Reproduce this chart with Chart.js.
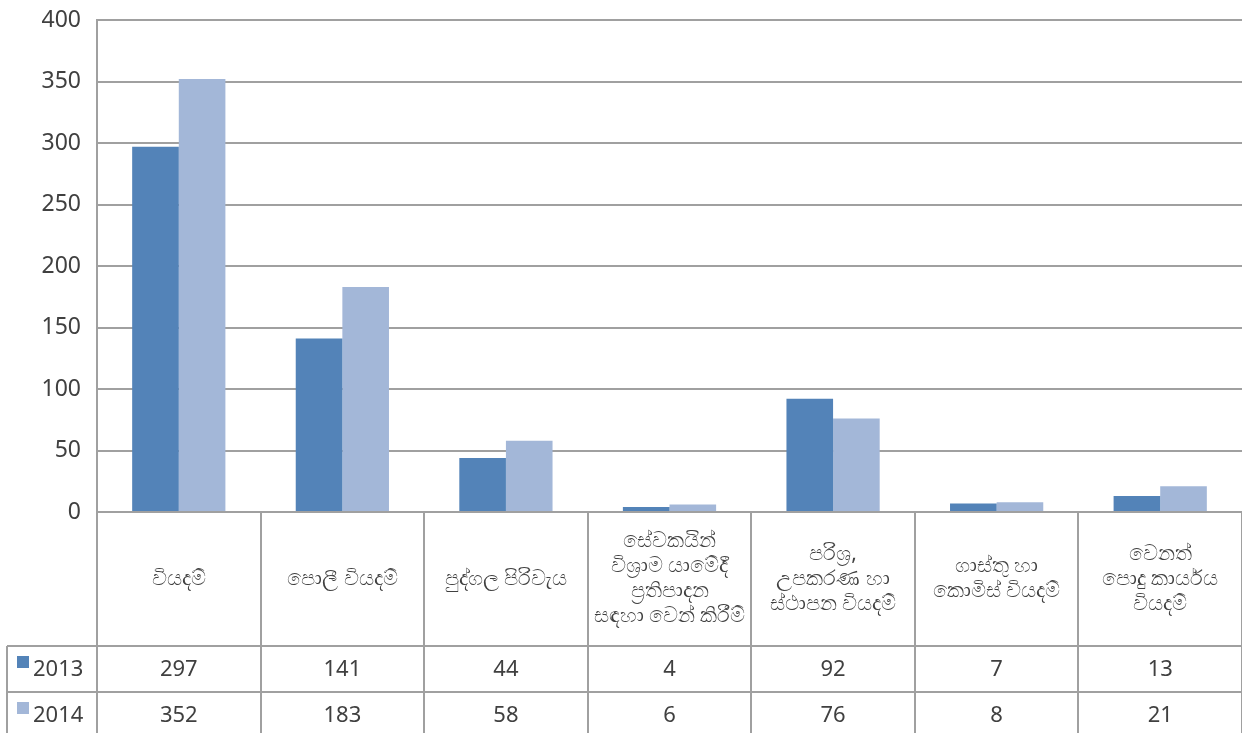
<!DOCTYPE html>
<html lang="si">
<head>
  <meta charset="UTF-8" />
  <title>වියදම් 2013 - 2014</title>
  <script src="https://cdn.jsdelivr.net/npm/chart.js"></script>
  <style>
    html, body {
      margin: 0;
      padding: 0;
      background: #fff;
    }
    #wrap {
      width: 1242px;
      height: 733px;
    }
  </style>
</head>
<body>
  <div id="wrap"><canvas id="expenseChart"></canvas></div>

  <script>
    // category labels, already broken into the lines shown in each table cell
    const categories = [
      ["වියදම්"],
      ["පොලී වියදම්"],
      ["පුද්ගල පිරිවැය"],
      ["සේවකයින්", "විශ්‍රාම යාමේදී", "ප්‍රතිපාදන", "සඳහා වෙන් කිරීම්"],
      ["පරිශ්‍ර,", "උපකරණ හා", "ස්ථාපන වියදම්"],
      ["ගාස්තු හා", "කොමිස් වියදම්"],
      ["වෙනත්", "පොදු කාර්යය", "වියදම්"]
    ];
    const years = ["2013", "2014"];
    const values2013 = [297, 141, 44, 4, 92, 7, 13];
    const values2014 = [352, 183, 58, 6, 76, 8, 21];

    const FONT = "'Noto Sans', 'Open Sans', sans-serif";
    const TEXT = "#404040";
    const LINE = "#a0a0a0";
    const colors = ["#5383b8", "#a3b7d8"];

    // data table under the plot: category row, then one row per year
    const dataTable = {
      id: "dataTable",
      afterDraw(chart) {
        const { ctx, chartArea, scales } = chart;
        const x = scales.x;
        const n = categories.length;
        const step = (chartArea.right - chartArea.left) / n;
        const top = chartArea.bottom;
        const rowA = top + 134;
        const rowB = rowA + 46;
        const rowC = rowB + 46;
        const legendLeft = 7;

        ctx.save();
        ctx.strokeStyle = LINE;
        ctx.lineWidth = 2;
        ctx.beginPath();
        // category boundaries
        for (let i = 0; i <= n; i++) {
          const px = Math.round(chartArea.left + i * step);
          ctx.moveTo(px, top);
          ctx.lineTo(px, chart.height);
        }
        // row separators and the legend column
        [rowA, rowB, rowC].forEach(y => {
          ctx.moveTo(legendLeft, y);
          ctx.lineTo(chartArea.right, y);
        });
        ctx.moveTo(legendLeft, rowA);
        ctx.lineTo(legendLeft, chart.height);
        ctx.stroke();

        ctx.fillStyle = TEXT;
        ctx.textAlign = "center";
        ctx.textBaseline = "middle";

        // category labels
        ctx.font = "21px " + FONT;
        categories.forEach((lines, i) => {
          const cx = x.getPixelForValue(i);
          const lh = 25;
          const cy = (top + rowA) / 2 - (lines.length - 1) * lh / 2;
          lines.forEach((t, k) => ctx.fillText(t, cx, cy + k * lh));
        });

        // values with legend keys
        const rows = [[values2013, rowA, rowB], [values2014, rowB, rowC]];
        ctx.font = "22px " + FONT;
        rows.forEach(([vals, y0, y1], r) => {
          const cy = (y0 + y1) / 2 + 1;
          ctx.textAlign = "center";
          ctx.fillStyle = TEXT;
          vals.forEach((v, i) => ctx.fillText(String(v), x.getPixelForValue(i), cy));
          ctx.fillStyle = colors[r];
          ctx.fillRect(17, y0 + 10, 12, 12);
          ctx.fillStyle = TEXT;
          ctx.textAlign = "left";
          ctx.fillText(years[r], 33, cy);
        });
        ctx.restore();
      }
    };

    new Chart(document.getElementById("expenseChart"), {
      type: "bar",
      data: {
        labels: categories,
        datasets: [
          { label: years[0], data: values2013, backgroundColor: colors[0] },
          { label: years[1], data: values2014, backgroundColor: colors[1] }
        ]
      },
      options: {
        responsive: true,
        maintainAspectRatio: false,
        animation: false,
        layout: { padding: { top: 20, right: 0, bottom: 221, left: 0 } },
        datasets: {
          bar: { categoryPercentage: 0.57, barPercentage: 1.0 }
        },
        plugins: {
          legend: { display: false },
          tooltip: { enabled: false }
        },
        scales: {
          x: {
            display: false
          },
          y: {
            min: 0,
            max: 400,
            afterFit: s => {
              s.width = 97;
              s.paddingTop = 0;
              s.paddingBottom = 0;
            },
            ticks: {
              stepSize: 50,
              padding: 16,
              color: TEXT,
              font: { family: FONT, size: 23 }
            },
            border: { color: LINE, width: 2 },
            grid: { color: LINE, lineWidth: 2, drawTicks: false }
          }
        }
      },
      plugins: [dataTable]
    });
  </script>
</body>
</html>
